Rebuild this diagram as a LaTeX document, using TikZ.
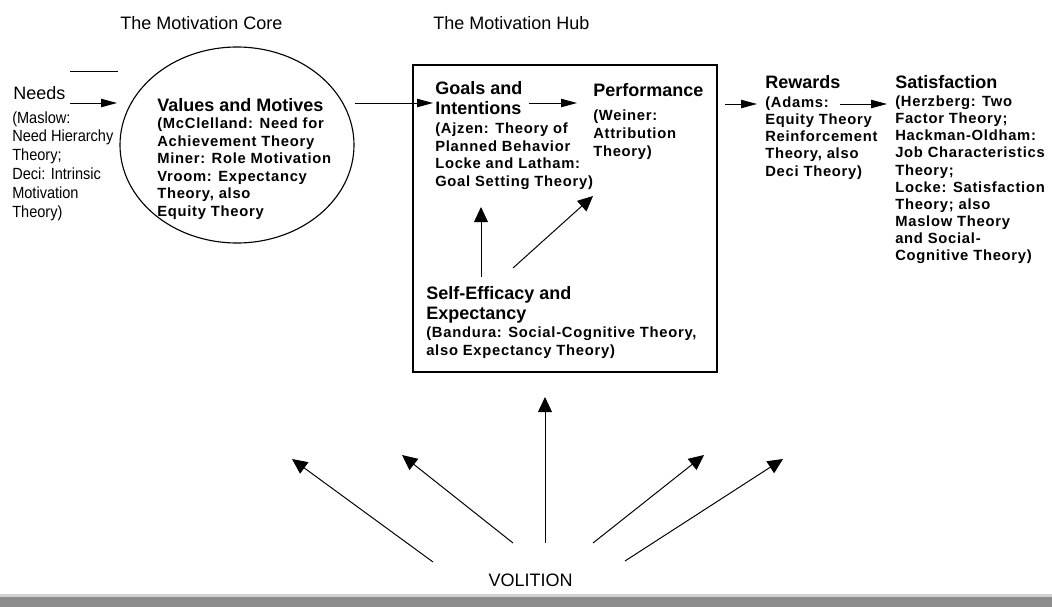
\documentclass[tikz,border=0pt]{standalone}
\usepackage{fontspec}
\setmainfont{Liberation Sans}
\newfontfamily\narrowfont[FakeStretch=0.9]{Liberation Sans}
\newfontfamily\theoryfont[LetterSpace=5]{Liberation Sans}
\usetikzlibrary{arrows.meta, shapes.geometric, fit}

\tikzset{
  hdr/.style={font=\fontsize{12.8}{15}\selectfont, inner sep=0pt, anchor=base west},
  topic/.style={font=\fontsize{12.8}{14.2}\selectfont\bfseries, inner sep=0pt, align=left, anchor=north west},
  theory/.style={font=\theoryfont\fontsize{10.5}{12.4}\selectfont\bfseries, inner sep=0pt, align=left, anchor=north west},
  flowarrow/.style={line width=0.7pt, -{Triangle[length=4mm, width=2.1mm]}},
  pusharrow/.style={line width=0.7pt, -{Triangle[length=3.8mm, width=3.5mm]}}
}

\begin{document}
\begin{tikzpicture}[x=0.25mm, y=-0.25mm]
    \useasboundingbox (0,0) rectangle (1052,607);

    % Tiêu đề hai khối
    \node[hdr] (coreT) at (120,29) {The Motivation Core};
    \node[hdr] (hubT) at (433,29) {The Motivation Hub};

    % Needs
    \draw[line width=0.6pt] (70,71) -- (118,71);
    \node[hdr] (needs) at (13,99) {Needs};
    \node[font=\narrowfont\fontsize{11.5}{13.5}\selectfont, inner sep=0pt, align=left, anchor=north west] (needsT) at (12,111)
        {(Maslow:\\Need Hierarchy\\Theory;\\Deci: Intrinsic\\Motivation\\Theory)};

    % Motivation core (elip)
    \node[draw, ellipse, line width=0.8pt, minimum width=58.5mm, minimum height=49mm, inner sep=0pt] (core) at (237,145) {};
    \node[hdr, font=\fontsize{12.8}{15}\selectfont\bfseries] (values) at (157,111.5) {Values and Motives};
    \node[theory] (valuesT) at (157,118)
        {(McClelland: Need for\\Achievement Theory\\Miner: Role Motivation\\Vroom: Expectancy\\Theory, also\\Equity Theory};

    % Motivation hub (khung)
    \node[draw, line width=1.2pt, fit={(413,65) (717,372)}, inner sep=0pt] (hub) {};
    \node[topic] (goals) at (435,81.5) {Goals and\\Intentions};
    \node[theory, font=\theoryfont\fontsize{10.5}{12.6}\selectfont\bfseries] (goalsT) at (435,122.5)
        {(Ajzen: Theory of\\Planned Behavior\\Locke and Latham:\\Goal Setting Theory)};
    \node[hdr, font=\fontsize{12.8}{15}\selectfont\bfseries] (perf) at (593,96.5) {Performance};
    \node[theory, font=\theoryfont\fontsize{10.5}{12.8}\selectfont\bfseries] (perfT) at (593,110)
        {(Weiner:\\Attribution\\Theory)};
    \node[topic] (self) at (426,286.5) {Self-Efficacy and\\Expectancy};
    \node[theory, font=\theoryfont\fontsize{10.5}{12.8}\selectfont\bfseries] (selfT) at (426,326.5)
        {(Bandura: Social-Cognitive Theory,\\also Expectancy Theory)};

    % Rewards, Satisfaction
    \node[hdr, font=\fontsize{12.8}{15}\selectfont\bfseries] (rewards) at (765,88) {Rewards};
    \node[theory, font=\theoryfont\fontsize{10.5}{12.2}\selectfont\bfseries] (rewardsT) at (765,96.5)
        {(Adams:\\Equity Theory\\Reinforcement\\Theory, also\\Deci Theory)};
    \node[hdr, font=\fontsize{12.8}{15}\selectfont\bfseries] (satis) at (895,88) {Satisfaction};
    \node[theory, font=\theoryfont\fontsize{10.5}{12.2}\selectfont\bfseries] (satisT) at (895,95.5)
        {(Herzberg: Two\\Factor Theory;\\Hackman-Oldham:\\Job Characteristics\\Theory;\\Locke: Satisfaction\\Theory; also\\Maslow Theory\\and Social-\\Cognitive Theory)};

    % Volition
    \node[font=\fontsize{12.8}{15}\selectfont, inner sep=0pt] (volition) at (530.5,580) {VOLITION};

    % Điểm đầu, cuối các mũi tên
    \coordinate (n1) at (70,103);   \coordinate (n2) at (117,103);
    \coordinate (c1) at (355,103);  \coordinate (c2) at (433,103);
    \coordinate (g1) at (529,103);  \coordinate (g2) at (577,103);
    \coordinate (h1) at (725,104);  \coordinate (h2) at (757,104);
    \coordinate (r1) at (840,104);  \coordinate (r2) at (887,104);
    \coordinate (s1) at (481,277);  \coordinate (s2) at (481,207);
    \coordinate (s3) at (513,268);  \coordinate (s4) at (593,196);

    % Mũi tên ngang
    \draw[flowarrow] (n1) -- (n2);
    \draw[flowarrow] (c1) -- (c2);
    \draw[flowarrow] (g1) -- (g2);
    \draw[flowarrow] (h1) -- (h2);
    \draw[flowarrow] (r1) -- (r2);

    % Mũi tên trong khung
    \draw[pusharrow] (s1) -- (s2);
    \draw[pusharrow] (s3) -- (s4);

    % Mũi tên từ Volition
    \coordinate (vt1) at (433,562); \coordinate (vh1) at (292,459);
    \coordinate (vt2) at (513,543); \coordinate (vh2) at (402,455);
    \coordinate (vt3) at (545,543); \coordinate (vh3) at (545,397);
    \coordinate (vt4) at (593,543); \coordinate (vh4) at (704,455);
    \coordinate (vt5) at (625,561); \coordinate (vh5) at (783,459);
    \draw[pusharrow] (vt1) -- (vh1);
    \draw[pusharrow] (vt2) -- (vh2);
    \draw[pusharrow] (vt3) -- (vh3);
    \draw[pusharrow] (vt4) -- (vh4);
    \draw[pusharrow] (vt5) -- (vh5);

    % Dải xám dưới cùng
    \fill[black!18] (0,594) rectangle (1052,597);
    \fill[black!45] (0,597) rectangle (1052,607);
\end{tikzpicture}
\end{document}
